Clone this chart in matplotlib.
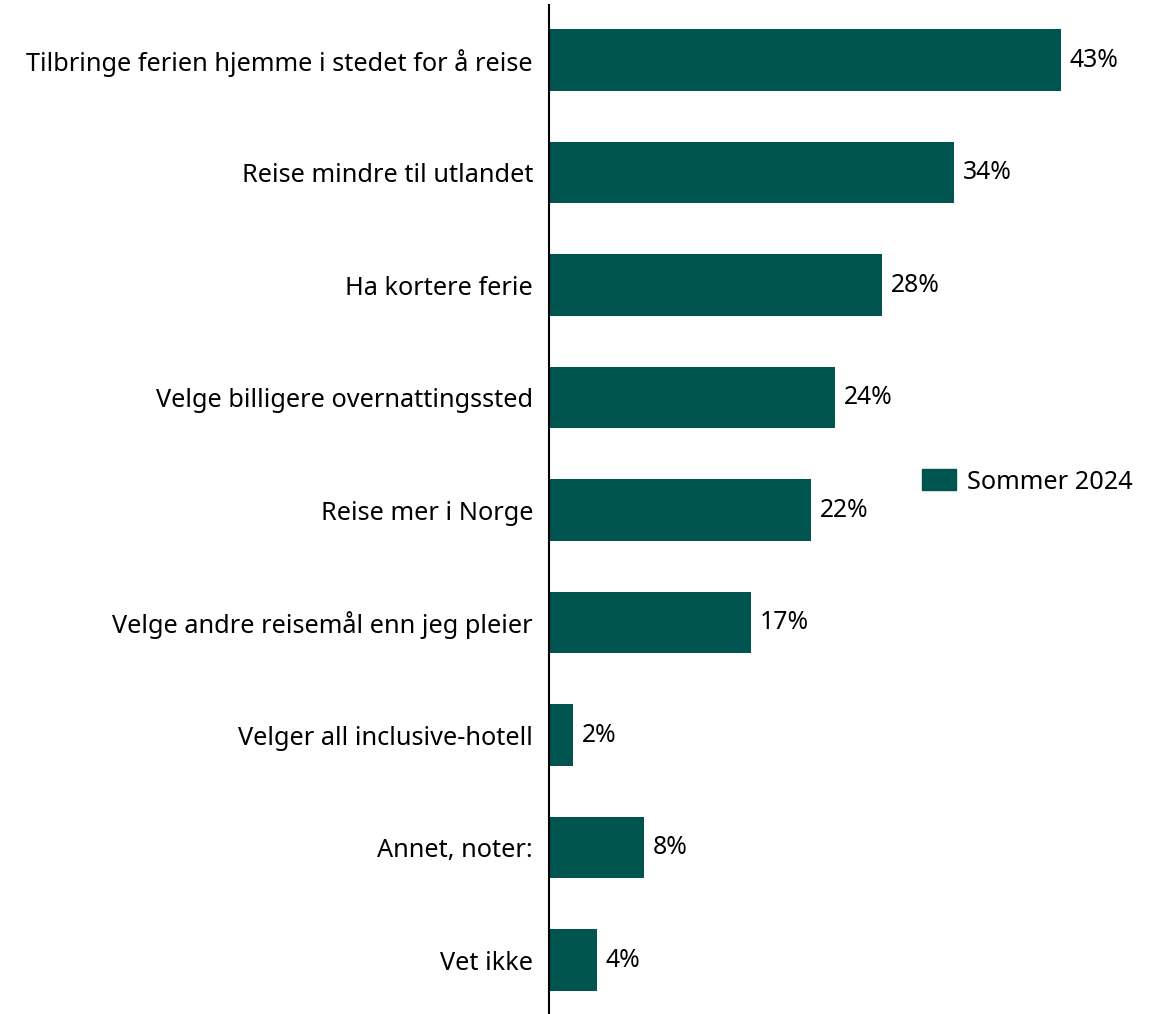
import matplotlib
matplotlib.use("Agg")
from matplotlib import pyplot as plt
from matplotlib.patches import Patch

categories = [
    "Tilbringe ferien hjemme i stedet for å reise",
    "Reise mindre til utlandet",
    "Ha kortere ferie",
    "Velge billigere overnattingssted",
    "Reise mer i Norge",
    "Velge andre reisemål enn jeg pleier",
    "Velger all inclusive-hotell",
    "Annet, noter:",
    "Vet ikke",
]
values = [43, 34, 28, 24, 22, 17, 2, 8, 4]
series_name = "Sommer 2024"

COLOR = "#005550"
plt.rcParams["font.family"] = ["Noto Sans", "DejaVu Sans"]

fig = plt.figure(figsize=(11.58, 10.14), dpi=100)
ax = fig.add_axes([549 / 1158, 0, 1 - 549 / 1158, 1 - 5 / 1014])

ypos = list(range(len(categories)))
ax.barh(ypos, values, height=0.55, color=COLOR)
for y, v in zip(ypos, values):
    ax.text(v + 0.75, y, f"{v}%", va="center", ha="left", fontsize=17.8)

ax.set_xlim(0, 609 / 11.9)
ax.set_ylim(8.48, -0.489)
ax.set_yticks(ypos)
ax.set_yticklabels(categories, fontsize=18.2)
ax.tick_params(axis="y", length=0, pad=11.5)
ax.set_xticks([])
for s in ("top", "right", "bottom"):
    ax.spines[s].set_visible(False)
ax.spines["left"].set_linewidth(1.5)

fig.legend(handles=[Patch(color=COLOR, label=series_name)],
           loc="center left", bbox_to_anchor=(899 / 1158, 1 - 482 / 1014),
           frameon=False, fontsize=18.2, handlelength=1.35, handleheight=0.9,
           handletextpad=0.45)

fig.savefig("out.png", dpi=100)
